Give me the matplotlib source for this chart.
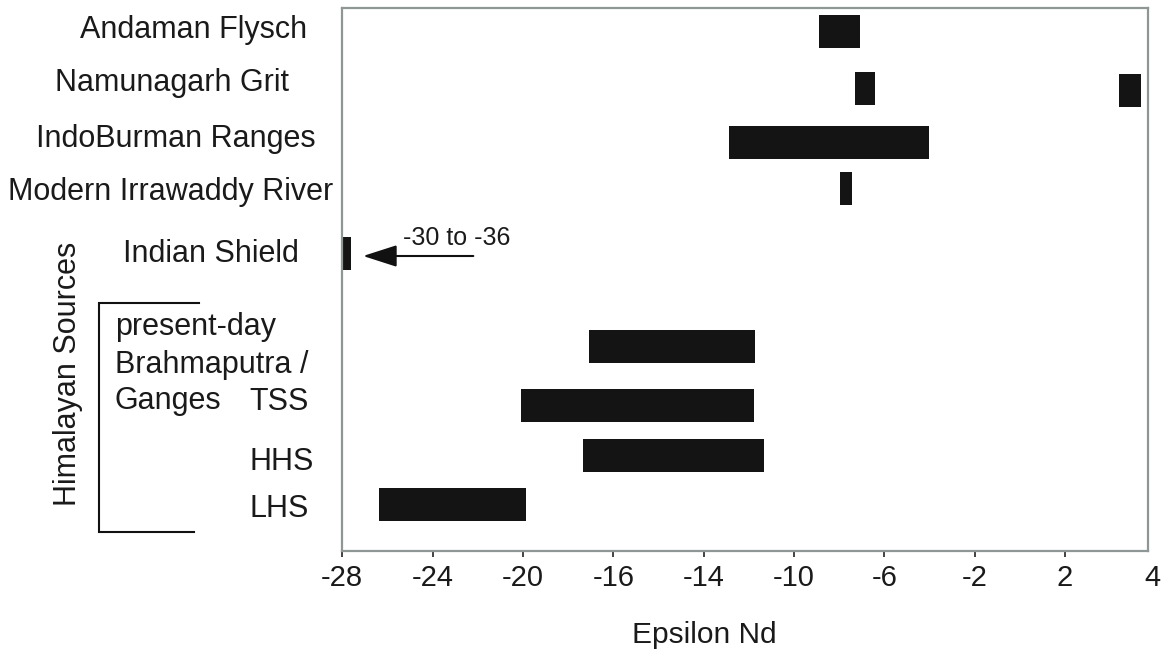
import matplotlib
matplotlib.use("Agg")
import matplotlib.pyplot as plt
import numpy as np

plt.rcParams['font.family'] = ['Liberation Sans', 'DejaVu Sans']

# tick labels as printed on the original axis (spacing is not uniform in value)
tick_labels = [-28, -24, -20, -16, -14, -10, -6, -2, 2, 4]
tick_slots = [0, 1, 2, 3, 4, 5, 6, 7, 8, 8.97]

# epsilon Nd ranges (low, high)
upper_names = ["Andaman Flysch", "Namunagarh Grit", "IndoBurman Ranges",
               "Modern Irrawaddy River", "Indian Shield"]
upper_low = [-8.9, -7.3, -12.88, -7.97, -28.0]
upper_high = [-7.08, -6.42, -4.03, -7.44, -27.6]
namunagarh_extra = (3.23, 3.73)

hima_names = ["present-day", "TSS", "HHS", "LHS"]
hima_low = [-17.08, -20.09, -17.34, -26.38]
hima_high = [-11.74, -11.78, -11.34, -19.87]

# layout (vertical rows, measured from top of plot)
upper_rows = [23.8, 80.9, 134.8, 180.8, 245.7]
hima_rows = [338.8, 397.8, 447.8, 496.8]
bar_h = 32.7


def fwd(x):
    return np.interp(x, tick_labels, tick_slots)


def inv(k):
    return np.interp(k, tick_slots, tick_labels)


fig = plt.figure(figsize=(11.67, 6.53), dpi=100)
ax = fig.add_axes([342.3 / 1167, 1 - 550.7 / 653, 805.4 / 1167, 543.2 / 653])
ax.set_xscale('function', functions=(fwd, inv))
ax.set_xlim(-28, 3.885)
ax.set_ylim(543.2, 0)

bar_col = "#141414"
ax.barh(upper_rows, np.array(upper_high) - np.array(upper_low), left=upper_low,
        height=bar_h, color=bar_col)
ax.barh([82.8], [namunagarh_extra[1] - namunagarh_extra[0]], left=[namunagarh_extra[0]],
        height=bar_h, color=bar_col)
ax.barh(hima_rows, np.array(hima_high) - np.array(hima_low), left=hima_low,
        height=bar_h, color=bar_col)

# axes look
for s in ax.spines.values():
    s.set_color("#8e9696")
    s.set_linewidth(1.6)
ax.set_yticks([])
ax.set_xticks(tick_labels[:-1])
ax.set_xticklabels([str(v) for v in tick_labels[:-1]])
ax.xaxis.set_minor_locator(matplotlib.ticker.NullLocator())
ax.tick_params(axis='x', direction='out', length=4.5, width=1.2, color="#222222",
               labelsize=21, pad=5, labelcolor="#1a1a1a")
# the last label sits past the frame, without a tick mark
ax.text(4, -0.0243, "4", transform=ax.get_xaxis_transform(), ha='center', va='top',
        fontsize=21, color="#1a1a1a", clip_on=False)

fig.text(704.5 / 1167, 1 - 635 / 653, "Epsilon Nd", ha='center', va='center',
         fontsize=21.5, color="#1a1a1a")


def axfrac(px):
    return (px - 342.3) / 805.4


ytr = ax.get_yaxis_transform()
txt_kw = dict(transform=ytr, fontsize=22, color="#1a1a1a", clip_on=False, va='baseline')

upper_x = [193.5, 172, 175.5, 170.5, 211]
upper_base = [30.8, 83.2, 139.2, 192.5, 254.2]
for name, xp, yb in zip(upper_names, upper_x, upper_base):
    ax.text(axfrac(xp), yb, name, ha='center', **txt_kw)

ax.text(axfrac(115), 327.5, "present-day", ha='left', **txt_kw)
ax.text(axfrac(115), 365.2, "Brahmaputra /", ha='left', **txt_kw)
ax.text(axfrac(115), 401.8, "Ganges", ha='left', **txt_kw)
for name, yb in zip(hima_names[1:], [402.5, 462.5, 509.5]):
    ax.text(axfrac(249), yb, name, ha='left', **txt_kw)

ax.text(axfrac(68), 366.5, "Himalayan Sources", transform=ytr, rotation=90,
        ha='center', va='center', fontsize=22, color="#1a1a1a", clip_on=False)

# bracket
ax.plot([axfrac(199), axfrac(99.3), axfrac(99.3), axfrac(194)],
        [295.2, 295.2, 524.2, 524.2], transform=ytr, color="#111111",
        lw=1.5, clip_on=False, solid_joinstyle='miter')

# arrow for off-scale Indian Shield values
ax.annotate("", xy=(-27.08, 248.5), xytext=(-22.2, 248.5),
            arrowprops=dict(arrowstyle="-|>,head_length=1.4,head_width=0.45",
                            mutation_scale=15, lw=1.5, color="#111111",
                            shrinkA=0, shrinkB=0))
ax.text(-25.3, 230.5, "-30 to -36", ha='left', va='center', fontsize=18,
        color="#1a1a1a")

fig.savefig("out.png", dpi=100)
